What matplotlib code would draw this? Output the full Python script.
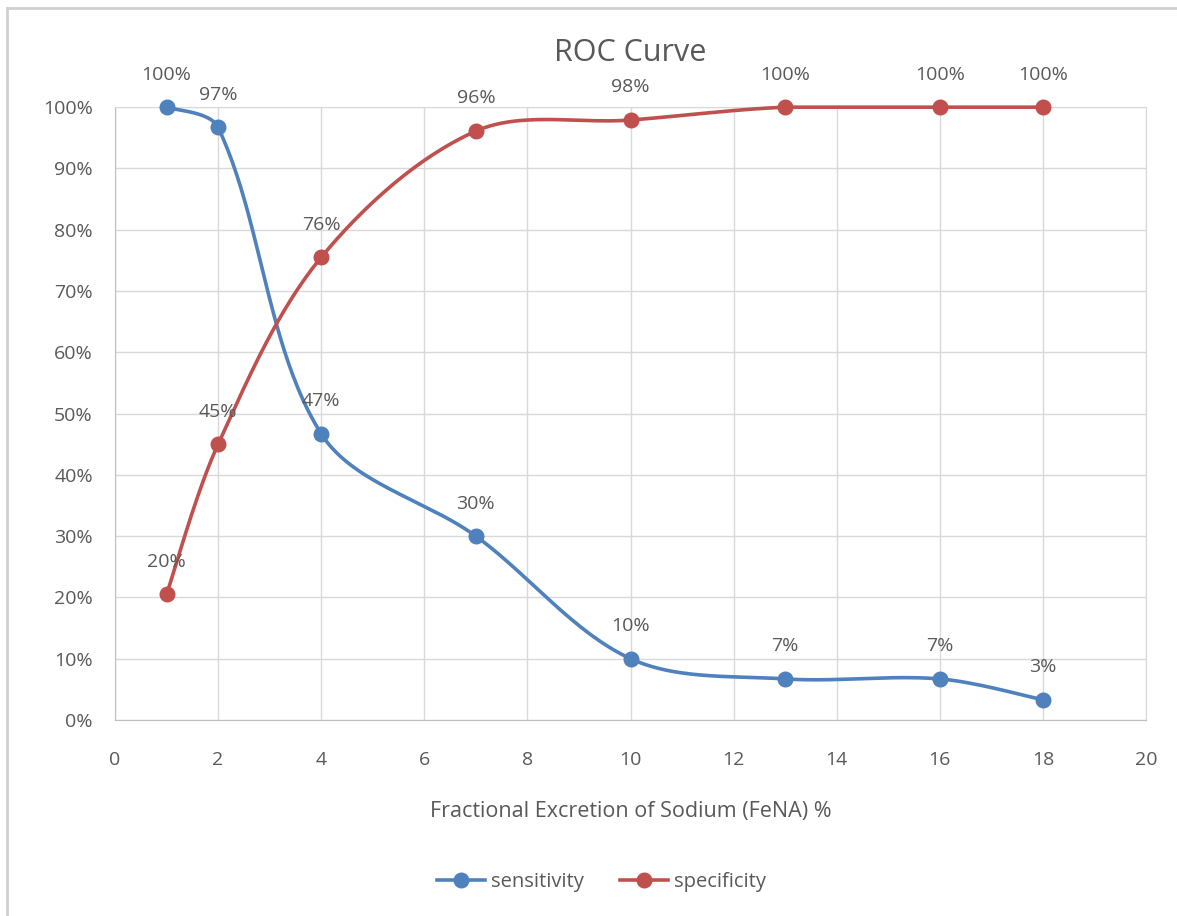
import matplotlib
matplotlib.use("Agg")
import matplotlib.pyplot as plt
from matplotlib.lines import Line2D
import numpy as np

plt.rcParams['font.family'] = ['Open Sans', 'DejaVu Sans']

fena = [1, 2, 4, 7, 10, 13, 16, 18]
sensitivity = [1.0, 0.967, 0.467, 0.30, 0.10, 0.067, 0.067, 0.033]
specificity = [0.205, 0.45, 0.755, 0.961, 0.979, 1.0, 1.0, 1.0]
series_names = ["sensitivity", "specificity"]
colors = ["#4f81bd", "#c0504d"]
txt = "#595959"

# pixels per data unit, used so the smoothing behaves like it does on screen
SX, SY = 1031 / 20, 613 / 1.0


def smooth(x, y, n=50):
    # excel style bezier smoothing, tangents weighted by segment length
    p = np.column_stack([np.asarray(x) * SX, np.asarray(y) * SY]).astype(float)
    m = len(p)
    d = np.hypot(*np.diff(p, axis=0).T)
    outc, inc = [], []
    for i in range(m):
        if i == 0:
            T = p[1] - p[0]
            outc.append(p[0] + T / 6)
            inc.append(p[0])
        elif i == m - 1:
            T = p[-1] - p[-2]
            inc.append(p[-1] - T / 6)
            outc.append(p[-1])
        else:
            T = p[i + 1] - p[i - 1]
            dl, dr = d[i - 1], d[i]
            inc.append(p[i] - T * dl / (dl + dr) / 3)
            outc.append(p[i] + T * dr / (dl + dr) / 3)
    pts = []
    t = np.linspace(0, 1, n)[:, None]
    for i in range(m - 1):
        c1, c2 = outc[i], inc[i + 1]
        seg = (1 - t) ** 3 * p[i] + 3 * (1 - t) ** 2 * t * c1 + 3 * (1 - t) * t ** 2 * c2 + t ** 3 * p[i + 1]
        pts.append(seg)
    s = np.vstack(pts)
    return s[:, 0] / SX, np.minimum(s[:, 1] / SY, 1.0)


fig = plt.figure(figsize=(11.77, 9.16), dpi=100)
ax = fig.add_axes([0.0977, 0.214, 0.876, 0.669])

for vals, name, c in zip([sensitivity, specificity], series_names, colors):
    sx, sy = smooth(fena, vals)
    ax.plot(sx, sy, color=c, lw=2.6, zorder=3, clip_on=False)
    ax.plot(fena, vals, 'o', color=c, ms=10.5, zorder=4, clip_on=False)
    for xv, yv in zip(fena, vals):
        ax.annotate(f"{yv*100:.0f}%", (xv, yv), xytext=(0, 17), textcoords='offset points',
                    ha='center', va='bottom', fontsize=14, color=txt, clip_on=False)

ax.plot([], [], '-o', color=colors[0], lw=2.6, ms=10.5, label=series_names[0])
ax.plot([], [], '-o', color=colors[1], lw=2.6, ms=10.5, label=series_names[1])

ax.set_xlim(0, 20)
ax.set_ylim(0, 1)
ax.set_xticks(np.arange(0, 21, 2))
ax.set_yticks(np.arange(0, 1.01, 0.1))
ax.set_yticklabels([f"{v}%" for v in range(0, 101, 10)])
ax.grid(True, color="#d9d9d9", lw=1)
ax.set_axisbelow(True)
for s in ax.spines.values():
    s.set_color("#d9d9d9")
ax.spines['bottom'].set_color("#bfbfbf")
ax.spines['left'].set_color("#bfbfbf")
ax.tick_params(length=0, labelsize=14, colors=txt)
ax.tick_params(axis='y', pad=16)
ax.tick_params(axis='x', pad=22)

xc = 0.5 + 0.0977 / 2 - (1 - 0.9737) / 2
fig.text(xc, 1 - 53 / 916, "ROC Curve", fontsize=22, color=txt, ha='center', va='center')
fig.text(xc, 1 - 812 / 916, "Fractional Excretion of Sodium (FeNA) %",
         fontsize=15.5, color=txt, ha='center', va='center')

leg = fig.legend(*ax.get_legend_handles_labels(), loc='center', bbox_to_anchor=(0.511, 1 - 882 / 916),
                 ncol=2, frameon=False, fontsize=14.5, handlelength=2.4, columnspacing=1.8, handletextpad=0.3)
for t in leg.get_texts():
    t.set_color(txt)

# outer chart border
fig.add_artist(Line2D([7 / 1177, 1], [1 - 8 / 916, 1 - 8 / 916], color="#d0d0d0", lw=2))
fig.add_artist(Line2D([7 / 1177, 7 / 1177], [0, 1 - 8 / 916], color="#d0d0d0", lw=2))

fig.savefig("out.png", dpi=100)
